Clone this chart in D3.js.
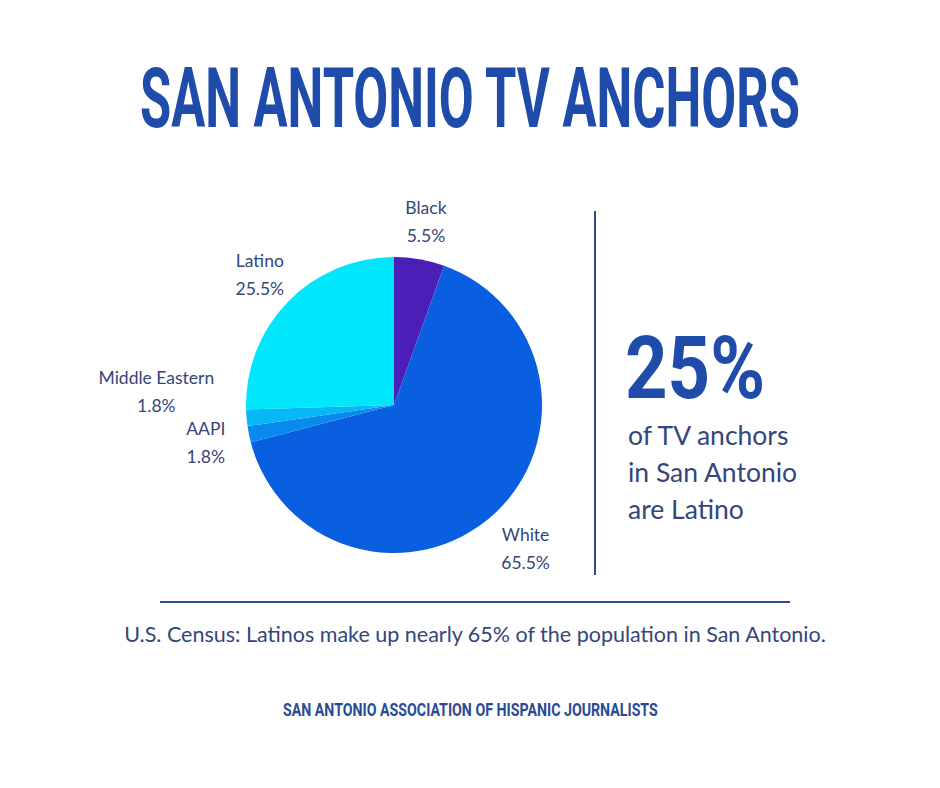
<!DOCTYPE html>
<html><head><meta charset="utf-8">
<script src="https://cdn.jsdelivr.net/npm/d3@7/dist/d3.min.js"></script>
<style>
html,body{margin:0;padding:0;background:#fff;}
svg{display:block;}
</style>
</head><body>
<svg id="chart" width="940" height="788"></svg>
<script>
// ---- data ----
const categories = ["Black", "White", "AAPI", "Middle Eastern", "Latino"];
const shares = [5.5, 65.5, 1.8, 1.8, 25.5];
const shareLabels = ["5.5%", "65.5%", "1.8%", "1.8%", "25.5%"];
const sliceColors = ["#4a1fb8", "#0a5ee0", "#0a8aec", "#08b8f6", "#00e6fb"];
const titleText = "SAN ANTONIO TV ANCHORS";
const highlightValue = "25%";
const highlightLines = ["of TV anchors", "in San Antonio", "are Latino"];
const noteText = "U.S. Census: Latinos make up nearly 65% of the population in San Antonio.";
const footerText = "SAN ANTONIO ASSOCIATION OF HISPANIC JOURNALISTS";

// ---- drawing ----
const svg = d3.select("#chart");
const titleBlue = "#1f4cab";
const textBlue = "#34467a";
const ruleBlue = "#2f4c90";
const condensed = "Roboto,'DejaVu Sans Condensed',sans-serif";
const bodyFont = "Lato,'Open Sans',sans-serif";

svg.append("rect").attr("width", 940).attr("height", 788).attr("fill", "#fff");

// squeeze a text horizontally so it spans [x0, x0+w]
function fitText(sel, x0, y, w) {
  sel.attr("x", 0).attr("y", 0);
  const len = sel.node().getComputedTextLength();
  sel.attr("transform", `translate(${x0},${y}) scale(${w / len},1)`);
}

// title
const title = svg.append("text")
  .attr("font-family", condensed).attr("font-weight", 700)
  .attr("font-size", 83).attr("fill", titleBlue)
  .text(titleText);
fitText(title, 140, 127, 660);

// pie
const cx = 394, cy = 405, R = 148;
const pie = d3.pie().sort(null).value(d => d.v);
const data = categories.map((c, i) => ({c, v: shares[i], lab: shareLabels[i], col: sliceColors[i]}));
const arcs = pie(data);
const arc = d3.arc().innerRadius(0).outerRadius(R);
const g = svg.append("g").attr("transform", `translate(${cx},${cy})`);
g.selectAll("path").data(arcs).join("path")
  .attr("d", arc).attr("fill", d => d.data.col);

// labels around the pie (radius / angle tweaks per slice for legibility)
const labelRadius = {"Black": 186, "White": 195, "AAPI": 192, "Middle Eastern": 238, "Latino": 187};
const labelAngleShift = {"Middle Eastern": 0.14};
const lg = g.append("g")
  .attr("font-family", bodyFont).attr("font-size", 17.5).attr("fill", textBlue)
  .attr("text-anchor", "middle");
arcs.forEach(a => {
  const ang = (a.startAngle + a.endAngle) / 2 + (labelAngleShift[a.data.c] || 0);
  const r = labelRadius[a.data.c];
  const x = Math.sin(ang) * r, y = -Math.cos(ang) * r;
  const t = lg.append("text").attr("x", x).attr("y", y);
  t.append("tspan").attr("x", x).attr("dy", -8).text(a.data.c);
  t.append("tspan").attr("x", x).attr("dy", 28).text(a.data.lab);
});

// vertical divider
svg.append("line").attr("x1", 595).attr("x2", 595).attr("y1", 211).attr("y2", 575)
  .attr("stroke", ruleBlue).attr("stroke-width", 2);

// highlight
const hv = svg.append("text")
  .attr("font-family", condensed).attr("font-weight", 700)
  .attr("font-size", 87).attr("fill", titleBlue)
  .text(highlightValue);
fitText(hv, 625, 398, 140);
const hl = svg.append("text").attr("font-family", bodyFont).attr("font-size", 26.5).attr("fill", textBlue);
highlightLines.forEach((s, i) => {
  hl.append("tspan").attr("x", 628).attr("y", 445 + i * 37).text(s);
});

// horizontal rule
svg.append("line").attr("x1", 160).attr("x2", 790).attr("y1", 602).attr("y2", 602)
  .attr("stroke", ruleBlue).attr("stroke-width", 2);

// note
svg.append("text").attr("x", 475).attr("y", 642).attr("text-anchor", "middle")
  .attr("font-family", bodyFont).attr("font-size", 21.5).attr("fill", textBlue)
  .text(noteText);

// footer
const ft = svg.append("text")
  .attr("font-family", condensed).attr("font-weight", 700)
  .attr("font-size", 19).attr("fill", "#2b4a94")
  .text(footerText);
fitText(ft, 283, 716, 375);
</script>
</body></html>
